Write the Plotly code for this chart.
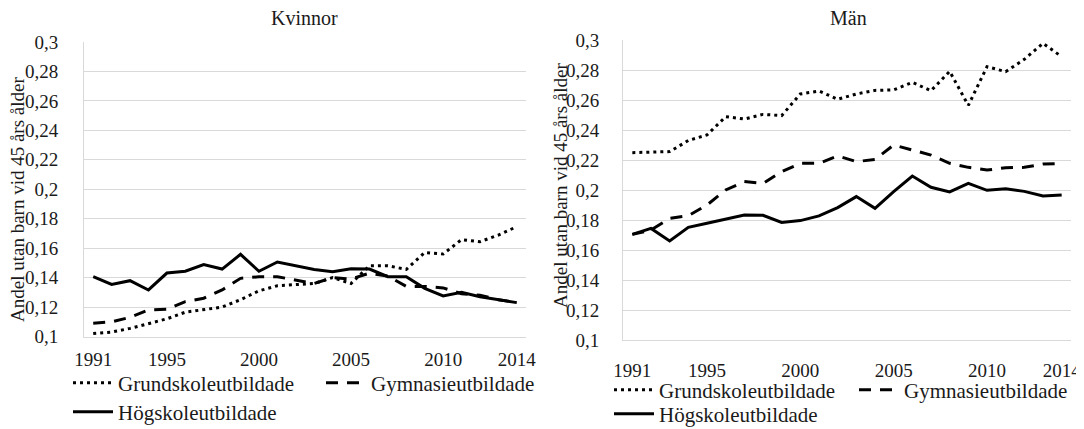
import plotly.graph_objects as go

years = list(range(1991, 2015))
tick_years = [1991, 1995, 2000, 2005, 2010, 2014]
y_ticks = [0.1, 0.12, 0.14, 0.16, 0.18, 0.2, 0.22, 0.24, 0.26, 0.28, 0.3]
y_tick_labels = ["0,1", "0,12", "0,14", "0,16", "0,18", "0,2", "0,22", "0,24", "0,26", "0,28", "0,3"]

series_names = ["Grundskoleutbildade", "Gymnasieutbildade", "Högskoleutbildade"]

# Kvinnor
grund_k = [0.102, 0.103, 0.1055, 0.109, 0.112, 0.1165, 0.1185, 0.120, 0.125, 0.131, 0.1345, 0.135,
           0.136, 0.140, 0.136, 0.148, 0.148, 0.1456, 0.157, 0.156, 0.1658, 0.1644, 0.1689, 0.1746]
gymn_k = [0.109, 0.110, 0.113, 0.118, 0.1185, 0.1237, 0.126, 0.1316, 0.1395, 0.1406, 0.1406, 0.1384,
          0.136, 0.140, 0.139, 0.143, 0.141, 0.134, 0.134, 0.133, 0.129, 0.128, 0.125, 0.123]
hog_k = [0.1406, 0.1354, 0.1379, 0.1316, 0.1431, 0.1443, 0.1488, 0.1458, 0.1558, 0.1443, 0.1506, 0.1479,
         0.1455, 0.144, 0.146, 0.1458, 0.1406, 0.1406, 0.1327, 0.1275, 0.130, 0.127, 0.1248, 0.123]

# Män
grund_m = [0.2249, 0.2251, 0.2256, 0.2330, 0.2367, 0.2489, 0.2473, 0.2504, 0.2496, 0.264, 0.266, 0.2605,
           0.264, 0.2664, 0.2667, 0.2718, 0.2662, 0.2791, 0.2564, 0.2822, 0.2789, 0.2871, 0.2978, 0.2889]
gymn_m = [0.1704, 0.1733, 0.1811, 0.1829, 0.190, 0.200, 0.2056, 0.2044, 0.2122, 0.2178, 0.2178, 0.2227,
          0.2189, 0.2204, 0.230, 0.2267, 0.2233, 0.2178, 0.2151, 0.2133, 0.2149, 0.2151, 0.2173, 0.2176]
hog_m = [0.1704, 0.1744, 0.166, 0.1751, 0.1778, 0.1804, 0.1833, 0.1831, 0.1784, 0.1796, 0.1827, 0.1883,
         0.1956, 0.1878, 0.1989, 0.2093, 0.2018, 0.1987, 0.2044, 0.1998, 0.2009, 0.1991, 0.196, 0.1967]

FONT = "Liberation Serif"
OFF = 8  # page body margin
W, H = 1084 - OFF, 429 - OFF
LINE_COLOR = "#000000"
dashes = ["3px,4px", "12px,9px", "solid"]

fig = go.Figure()

def add_series(vals, idx, xa, ya, legend):
    fig.add_trace(go.Scatter(
        x=years, y=vals, mode="lines", name=series_names[idx],
        line=dict(color=LINE_COLOR, width=3, dash=dashes[idx]),
        xaxis=xa, yaxis=ya, legend=legend, hoverinfo="skip"))

add_series(grund_k, 0, "x", "y", "legend")
add_series(gymn_k, 1, "x", "y", "legend")
add_series(hog_k, 2, "x", "y", "legend2")
add_series(grund_m, 0, "x2", "y2", "legend3")
add_series(gymn_m, 1, "x2", "y2", "legend3")
add_series(hog_m, 2, "x2", "y2", "legend4")

def px_x(p):
    return (p - OFF) / W

def px_y(p):
    return 1 - (p - OFF) / H

tick_font = dict(family=FONT, size=19, color="#1a1a1a")
grid = "#d9d9d9"

xcommon = dict(range=[1990.5, 2014.5], tickvals=tick_years, ticktext=[str(t) for t in tick_years],
               showgrid=False, zeroline=False, showline=True, linecolor=grid, linewidth=1,
               ticks="", tickfont=tick_font, fixedrange=True, automargin=False,
               ticklabeloverflow="allow")
ycommon = dict(range=[0.1, 0.3], tickvals=y_ticks, ticktext=y_tick_labels, showgrid=True,
               gridcolor=grid, gridwidth=1, zeroline=False, showline=True, linecolor=grid,
               linewidth=1, ticks="", tickfont=tick_font, fixedrange=True, automargin=False)

fig.update_layout(
    width=W, height=H,
    margin=dict(l=0, r=0, t=0, b=0, autoexpand=False),
    paper_bgcolor="white", plot_bgcolor="white",
    font=dict(family=FONT, color="#1a1a1a"),
    xaxis=dict(domain=[px_x(84), px_x(526)], anchor="y", ticklabelstandoff=6, **xcommon),
    yaxis=dict(domain=[px_y(336.5), px_y(42)], anchor="x", ticklabelstandoff=21, **ycommon),
    xaxis2=dict(domain=[px_x(623), px_x(1071)], anchor="y2", ticklabelstandoff=13, **xcommon),
    yaxis2=dict(domain=[px_y(340), px_y(40)], anchor="x2", ticklabelstandoff=19, **ycommon),
)

legend_common = dict(orientation="h", xanchor="left", yanchor="middle", bgcolor="rgba(0,0,0,0)",
                     borderwidth=0, font=dict(family=FONT, size=21, color="#1a1a1a"),
                     itemwidth=40, entrywidthmode="pixels", tracegroupgap=0)
fig.update_layout(
    legend=dict(x=px_x(68), y=px_y(383), entrywidth=198, **legend_common),
    legend2=dict(x=px_x(68), y=px_y(412), entrywidth=198, **legend_common),
    legend3=dict(x=px_x(609), y=px_y(390), entrywidth=190, **legend_common),
    legend4=dict(x=px_x(609), y=px_y(414), entrywidth=190, **legend_common),
)

annots = [
    dict(text="Kvinnor", x=px_x(305), y=px_y(18)),
    dict(text="Män", x=px_x(848), y=px_y(18)),
]
for a in annots:
    fig.add_annotation(xref="paper", yref="paper", showarrow=False, xanchor="center", yanchor="middle",
                       font=dict(family=FONT, size=20, color="#1a1a1a"), **a)

for xc, yc in [(18, 200), (560, 186)]:
    fig.add_annotation(xref="paper", yref="paper", x=px_x(xc), y=px_y(yc), text="Andel utan barn vid 45 års ålder",
                       textangle=-90, showarrow=False, xanchor="center", yanchor="middle",
                       font=dict(family=FONT, size=19, color="#1a1a1a"))

fig.write_html("out.html")
